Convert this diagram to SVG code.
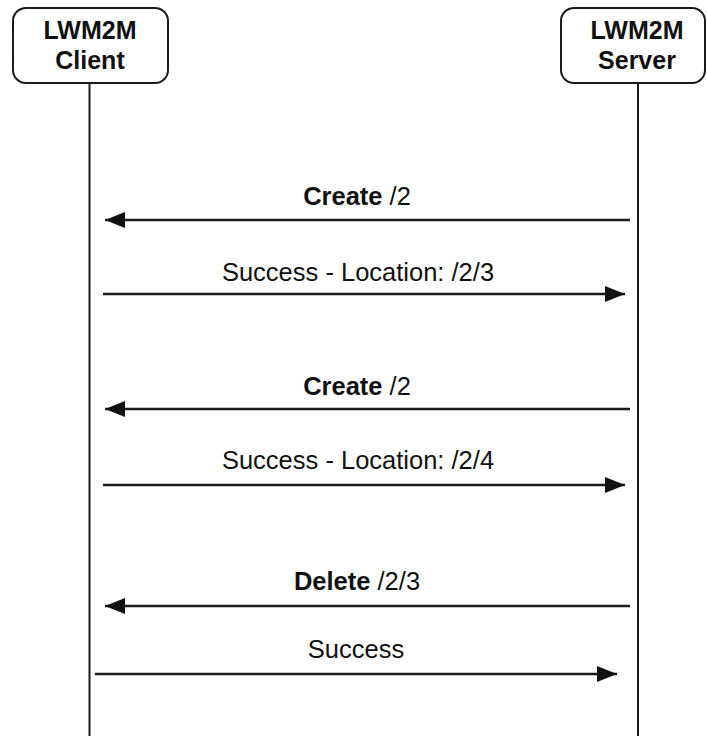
<svg xmlns="http://www.w3.org/2000/svg" width="707" height="736" viewBox="0 0 707 736">
<style>
.box{fill:#fff;stroke:#1a1a1a;stroke-width:2}
.life{stroke:#1a1a1a;stroke-width:2}
.msg{stroke:#1a1a1a;stroke-width:2.6;fill:none}
.title{font-family:"Liberation Sans",Arial,sans-serif;font-size:25px;font-weight:bold;fill:#111;text-anchor:middle}
.lbl{font-family:"Liberation Sans",Arial,sans-serif;font-size:25.5px;fill:#111;text-anchor:middle}
.b{font-weight:bold}
</style>
<defs>
<marker id="ah" markerWidth="20" markerHeight="16" refX="20" refY="8" orient="auto" markerUnits="userSpaceOnUse">
<path d="M0,0 L20,8 L0,16 Z" fill="#111"/>
</marker>
</defs>
<rect width="707" height="736" fill="#fff"/>
<g id="client">
<line class="life" x1="89.5" y1="83" x2="89.5" y2="736"/>
<rect class="box" x="13" y="8" width="155" height="75" rx="13"/>
<text class="title" x="90" y="39">LWM2M</text>
<text class="title" x="90" y="69">Client</text>
</g>
<g id="server">
<line class="life" x1="638" y1="83" x2="638" y2="736"/>
<rect class="box" x="561" y="8" width="144" height="75" rx="13"/>
<text class="title" x="637" y="39">LWM2M</text>
<text class="title" x="637" y="69">Server</text>
</g>
<g id="connectors">
<line class="msg" x1="630" y1="220" x2="105" y2="220" marker-end="url(#ah)"/>
<line class="msg" x1="103" y1="294" x2="625" y2="294" marker-end="url(#ah)"/>
<line class="msg" x1="630" y1="409" x2="105" y2="409" marker-end="url(#ah)"/>
<line class="msg" x1="103" y1="485" x2="625" y2="485" marker-end="url(#ah)"/>
<line class="msg" x1="630" y1="606" x2="105" y2="606" marker-end="url(#ah)"/>
<line class="msg" x1="95" y1="674" x2="617" y2="674" marker-end="url(#ah)"/>
</g>
<g id="labels">
<text class="lbl" x="357" y="205"><tspan class="b">Create</tspan> /2</text>
<text class="lbl" x="358" y="281">Success - Location: /2/3</text>
<text class="lbl" x="357" y="395"><tspan class="b">Create</tspan> /2</text>
<text class="lbl" x="358" y="469">Success - Location: /2/4</text>
<text class="lbl" x="357" y="590"><tspan class="b">Delete</tspan> /2/3</text>
<text class="lbl" x="356" y="658">Success</text>
</g>
</svg>
